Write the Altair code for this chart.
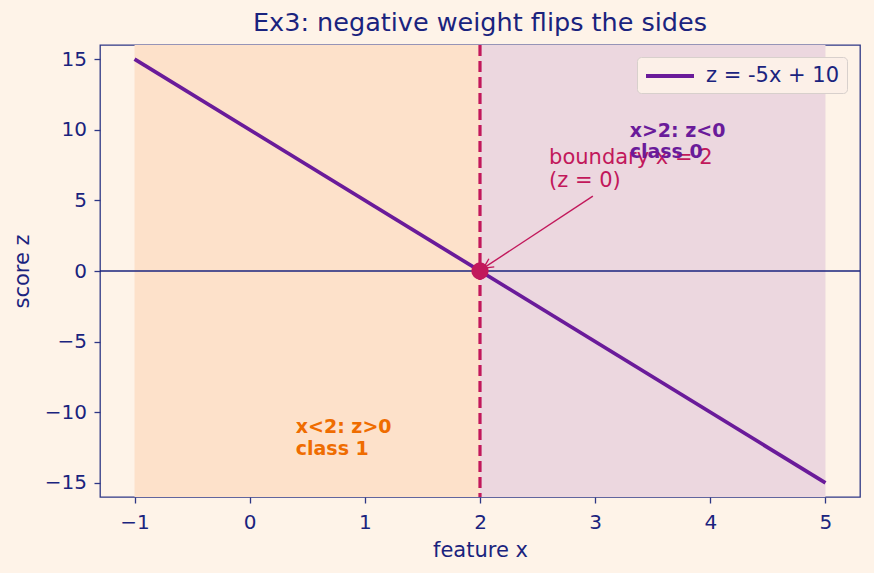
import altair as alt
import pandas as pd

# ---- data ----
line_x = [-1, 5]
line_z = [15, -15]
series_name = "z = -5x + 10"

boundary_x = 2
boundary_z = 0

region_x0 = [-1, 2]
region_x1 = [2, 5]
region_y0 = [-16, -16]
region_y1 = [16, 16]
region_fill = ["#fde1ca", "#ecd7df"]

x_ticks = [-1, 0, 1, 2, 3, 4, 5]
y_ticks = [-15, -10, -5, 0, 5, 10, 15]

ann_text = ["boundary x = 2", "(z = 0)"]
ann_x, ann_y = 2.6, 7.6
arrow_x0, arrow_y0 = 2.98, 5.3
arrow_x1, arrow_y1 = 2.03, 0.2

right_text = ["x>2: z<0", "class 0"]
right_x, right_y = 3.3, 9.5
left_text = ["x<2: z>0", "class 1"]
left_x, left_y = 0.4, -11.5

NAVY = "#1a237e"
PURPLE = "#6a1b9a"
CRIMSON = "#c2185b"
ORANGE = "#ef6c00"
BG = "#fef3e8"
FONT = "DejaVu Sans"

xs = alt.Scale(domain=[-1.3, 5.3], nice=False, zero=False)
ys = alt.Scale(domain=[-16, 16], nice=False, zero=False)

regions = pd.DataFrame({"x0": region_x0, "x1": region_x1, "y0": region_y0,
                        "y1": region_y1, "fill": region_fill})
line_df = pd.DataFrame({"x": line_x, "z": line_z, "s": [series_name] * len(line_x)})
pt_df = pd.DataFrame({"x": [boundary_x], "z": [boundary_z]})

rects = alt.Chart(regions).mark_rect().encode(
    x=alt.X("x0:Q", scale=xs, axis=alt.Axis(values=x_ticks, format="d", title="feature x")),
    x2="x1:Q",
    y=alt.Y("y0:Q", scale=ys, axis=alt.Axis(values=y_ticks, format="d", title="score z")),
    y2="y1:Q",
    color=alt.Color("fill:N", scale=None),
)

hline = alt.Chart(pd.DataFrame({"z": [0]})).mark_rule(color=NAVY, strokeWidth=1.3).encode(
    y=alt.Y("z:Q", scale=ys))

vline = alt.Chart(pd.DataFrame({"x": [boundary_x]})).mark_rule(
    color=CRIMSON, strokeWidth=3.2, strokeDash=[11, 5]).encode(
    x=alt.X("x:Q", scale=xs))

line = alt.Chart(line_df).mark_line(strokeWidth=3.7).encode(
    x=alt.X("x:Q", scale=xs),
    y=alt.Y("z:Q", scale=ys),
    color=alt.Color("s:N", scale=alt.Scale(domain=[series_name], range=[PURPLE]),
                    legend=alt.Legend(title=None, orient="none", legendX=537, legendY=12,
                                      symbolType="M-1,0 L3.8,0", symbolSize=400,
                                      symbolStrokeWidth=4, labelFontSize=21,
                                      labelFont=FONT, labelColor=NAVY, labelOffset=38,
                                      padding=7, fillColor="#fcf0e8",
                                      strokeColor="#d8d0cc", cornerRadius=4)),
)

pt = alt.Chart(pt_df).mark_point(filled=True, size=300, color=CRIMSON, opacity=1).encode(
    x=alt.X("x:Q", scale=xs), y=alt.Y("z:Q", scale=ys))

arrow_df = pd.DataFrame({"x": [arrow_x0], "y": [arrow_y0], "x2": [arrow_x1], "y2": [arrow_y1]})
arrow = alt.Chart(arrow_df).mark_rule(color=CRIMSON, strokeWidth=1.4).encode(
    x=alt.X("x:Q", scale=xs), y=alt.Y("y:Q", scale=ys), x2="x2:Q", y2="y2:Q")
head = alt.Chart(pd.DataFrame({"x": [arrow_x1], "y": [arrow_y1]})).mark_point(
    shape="M-0.5,1 L0,0 L0.5,1", size=380, filled=False, color=CRIMSON,
    strokeWidth=1.4, angle=236.6, opacity=1).encode(
    x=alt.X("x:Q", scale=xs), y=alt.Y("y:Q", scale=ys))

def text_layer(txt, x, y, color, size, weight, lh):
    df = pd.DataFrame({"x": [x], "y": [y], "t": [txt]})
    return alt.Chart(df).mark_text(align="left", baseline="alphabetic", color=color,
                                   fontSize=size, fontWeight=weight, font=FONT,
                                   lineHeight=lh).encode(
        x=alt.X("x:Q", scale=xs), y=alt.Y("y:Q", scale=ys), text="t")

ann = text_layer(ann_text, ann_x, ann_y, CRIMSON, 21, "normal", 23.5)
rt = text_layer(right_text, right_x, right_y, PURPLE, 19, "bold", 21.5)
lt = text_layer(left_text, left_x, left_y, ORANGE, 19, "bold", 21.5)

chart = alt.layer(rects, hline, vline, line, arrow, head, pt, ann, rt, lt).properties(
    width=760, height=452,
    title=alt.TitleParams("Ex3: negative weight flips the sides", fontSize=25.5,
                          font=FONT, color=NAVY, fontWeight="normal",
                          baseline="alphabetic", offset=12, dy=25),
    autosize=alt.AutoSizeParams(type="none"),
    padding={"left": 100, "top": 45, "right": 14, "bottom": 76},
    background=BG,
).configure_view(stroke="#2e3785", strokeWidth=1.3).configure_axis(
    grid=False, domain=False, tickColor="#2e3785", tickSize=6, tickWidth=1.3,
    labelFont=FONT, labelFontSize=20, labelColor=NAVY,
    titleFont=FONT, titleFontSize=21, titleColor=NAVY, titleFontWeight="normal",
).configure_axisX(labelPadding=9, titleBaseline="alphabetic", titleY=59
).configure_axisY(labelPadding=7.5, titleBaseline="alphabetic", titleX=-72)

chart.save("out.html", embed_options={"renderer": "svg", "actions": False})
